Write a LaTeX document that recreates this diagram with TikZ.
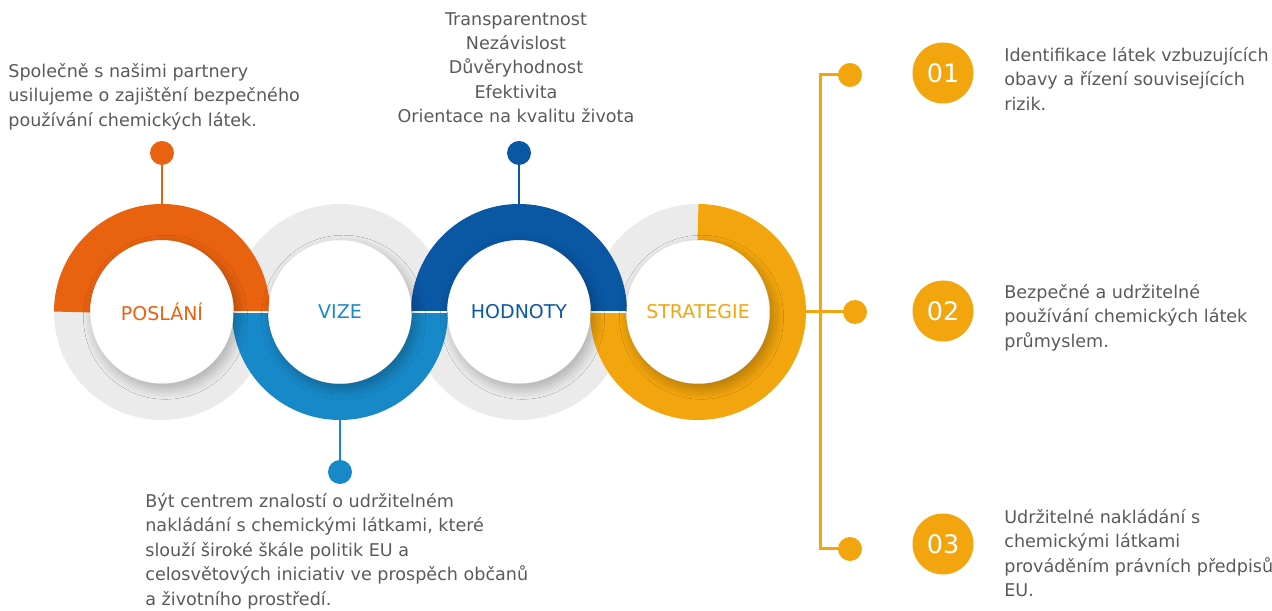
\documentclass[tikz,border=0pt]{standalone}
\usepackage{fontspec}
\setmainfont{DejaVu Sans}
\usetikzlibrary{shadows.blur}
\definecolor{poslanicol}{HTML}{E8620F}
\definecolor{vizecol}{HTML}{1789C8}
\definecolor{hodnotycol}{HTML}{0A57A4}
\definecolor{strategiecol}{HTML}{F2A50C}
\definecolor{ringgrey}{HTML}{EBEBEB}
\definecolor{textgrey}{HTML}{5A5A5A}
\tikzset{
  ring/.style={circle,minimum size=4.32cm,inner sep=0pt},
  hub/.style={circle,fill=white,minimum size=2.86cm,inner sep=0pt,
    font=\fontsize{10.8}{12}\selectfont,
    blur shadow={shadow xshift=2pt,shadow yshift=-3pt,shadow blur radius=6pt,
      shadow blur steps=12,shadow opacity=28}},
  pin/.style={circle,minimum size=0.48cm,inner sep=0pt},
  num/.style={circle,fill=strategiecol,text=white,minimum size=1.22cm,inner sep=0pt,
    font=\fontsize{14.5}{15}\selectfont},
  txt/.style={text=textgrey,font=\fontsize{10}{13.9}\selectfont,inner sep=0pt},
  band/.style={line width=0.72cm},
  stem/.style={line width=1.7pt}
}
\begin{document}
\begin{tikzpicture}[x=0.02cm,y=0.02cm]
  \useasboundingbox (0,0) rectangle (1272,611);
  \foreach \c in {162,340,519,698}
    \draw[ringgrey,band] (\c,299) circle[radius=90];
  \draw[poslanicol,band] (252,299) arc[start angle=0,end angle=180,radius=90];
  \draw[vizecol,band] (250,299) arc[start angle=180,end angle=360,radius=90];
  \draw[hodnotycol,band] (609,299) arc[start angle=0,end angle=180,radius=90];
  \draw[strategiecol,band] (698,389) arc[start angle=90,end angle=-180,radius=90];
  \foreach \a/\b in {234/268,412/447,591/626}
    \draw[white,line width=0.8pt] (\a,299) -- (\b,299);
  \node[ring] (r1) at (162,299) {};
  \node[ring] (r2) at (340,299) {};
  \node[ring] (r3) at (519,299) {};
  \node[ring] (r4) at (698,299) {};
  \node[hub,text=poslanicol] (poslani) at (162,299) {POSLÁNÍ};
  \node[hub,text=vizecol] (vize) at (340,299) {VIZE};
  \node[hub,text=hodnotycol] (hodnoty) at (519,299) {HODNOTY};
  \node[hub,text=strategiecol] (strategie) at (698,299) {STRATEGIE};
  \node[pin,fill=poslanicol] (pdot) at (162,458) {};
  \node[pin,fill=hodnotycol] (hdot) at (519,458) {};
  \node[pin,fill=vizecol] (vdot) at (340,139) {};
  \node[pin,fill=strategiecol] (s1) at (850,536) {};
  \node[pin,fill=strategiecol] (s2) at (855,299) {};
  \node[pin,fill=strategiecol] (s3) at (850,62) {};
  \coordinate (btop) at (820,536);
  \coordinate (bbot) at (820,62);
  \draw[poslanicol,stem] (pdot) -- (r1.north);
  \draw[hodnotycol,stem] (hdot) -- (r3.north);
  \draw[vizecol,stem] (r2.south) -- (vdot);
  \draw[strategiecol,stem] (s1) -- (btop) -- (bbot) -- (s3);
  \draw[strategiecol,stem] (r4.east) -- (s2);
  \node[num] (n1) at (943,538) {01};
  \node[num] (n2) at (943,300) {02};
  \node[num] (n3) at (943,67) {03};
  \node[txt,anchor=north west,align=left] (tposlani) at (8,548)
    {Společně s našimi partnery\\usilujeme o zajištění bezpečného\\používání chemických látek.};
  \node[txt,anchor=north,align=center] (thodnoty) at (516,599)
    {Transparentnost\\Nezávislost\\Důvěryhodnost\\Efektivita\\Orientace na kvalitu života};
  \node[txt,anchor=north west,align=left] (tvize) at (145,118)
    {Být centrem znalostí o udržitelném\\nakládání s chemickými látkami, které\\slouží široké škále politik EU a\\celosvětových iniciativ ve prospěch občanů\\a životního prostředí.};
  \node[txt,anchor=north west,align=left] (t1) at (1004,564)
    {Identifikace látek vzbuzujících\\obavy a řízení souvisejících\\rizik.};
  \node[txt,anchor=north west,align=left] (t2) at (1004,327)
    {Bezpečné a udržitelné\\používání chemických látek\\průmyslem.};
  \node[txt,anchor=north west,align=left] (t3) at (1004,102)
    {Udržitelné nakládání s\\chemickými látkami\\prováděním právních předpisů\\EU.};
\end{tikzpicture}
\end{document}
